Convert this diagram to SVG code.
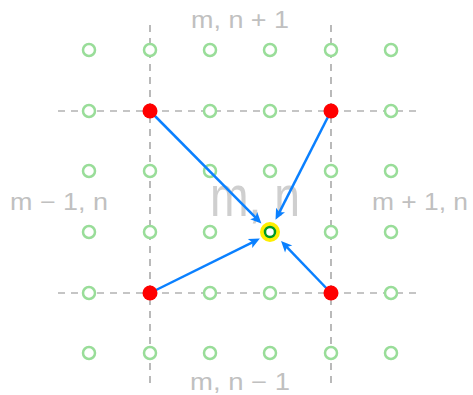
<svg xmlns="http://www.w3.org/2000/svg" width="473" height="395" viewBox="0 0 473 395">
<style>
.lbl{font-family:"Liberation Sans","DejaVu Sans",sans-serif;fill:#c0c0c0;font-size:23px}
.big{font-family:"Liberation Sans","DejaVu Sans",sans-serif;fill:#cfcfcf;font-size:58px}
.dash{stroke:#8c8c8c;stroke-width:1.2;stroke-dasharray:7,6;fill:none}
.pt{fill:#fff;stroke:#99dd99;stroke-width:2.5}
.red{fill:#ff0000}
.arr{stroke:#0a80ff;stroke-width:2.5;fill:none;marker-end:url(#ah)}
</style>
<defs>
<marker id="ah" markerUnits="userSpaceOnUse" viewBox="-1 -6 14 12" markerWidth="14" markerHeight="12" refX="6" refY="0" orient="auto" overflow="visible">
<path d="M0,-5 L11,0 L0,5 L2.5,0 Z" fill="#0a80ff"/>
</marker>
</defs>
<rect width="473" height="395" fill="#fff"/>
<g id="labels">
<text class="big" x="255" y="216" text-anchor="middle" textLength="90" lengthAdjust="spacingAndGlyphs">m, n</text>
<text class="lbl" x="240" y="28" text-anchor="middle" textLength="98" lengthAdjust="spacingAndGlyphs">m, n + 1</text>
<text class="lbl" x="240" y="390" text-anchor="middle" textLength="100" lengthAdjust="spacingAndGlyphs">m, n − 1</text>
<text class="lbl" x="59" y="210" text-anchor="middle" textLength="98" lengthAdjust="spacingAndGlyphs">m − 1, n</text>
<text class="lbl" x="420" y="210" text-anchor="middle" textLength="96" lengthAdjust="spacingAndGlyphs">m + 1, n</text>
</g>
<g id="gridlines">
<line class="dash" x1="150" y1="25" x2="150" y2="385"/>
<line class="dash" x1="331" y1="25" x2="331" y2="385"/>
<line class="dash" x1="58" y1="111" x2="420" y2="111"/>
<line class="dash" x1="58" y1="293" x2="420" y2="293"/>
</g>
<g id="points">
<circle class="pt" cx="89" cy="50" r="6"/><circle class="pt" cx="150" cy="50" r="6"/><circle class="pt" cx="210" cy="50" r="6"/><circle class="pt" cx="270" cy="50" r="6"/><circle class="pt" cx="331" cy="50" r="6"/><circle class="pt" cx="391" cy="50" r="6"/>
<circle class="pt" cx="89" cy="111" r="6"/><circle class="pt" cx="210" cy="111" r="6"/><circle class="pt" cx="270" cy="111" r="6"/><circle class="pt" cx="391" cy="111" r="6"/>
<circle class="pt" cx="89" cy="171" r="6"/><circle class="pt" cx="150" cy="171" r="6"/><circle class="pt" cx="210" cy="171" r="6"/><circle class="pt" cx="270" cy="171" r="6"/><circle class="pt" cx="331" cy="171" r="6"/><circle class="pt" cx="391" cy="171" r="6"/>
<circle class="pt" cx="89" cy="232" r="6"/><circle class="pt" cx="150" cy="232" r="6"/><circle class="pt" cx="210" cy="232" r="6"/><circle class="pt" cx="331" cy="232" r="6"/><circle class="pt" cx="391" cy="232" r="6"/>
<circle class="pt" cx="89" cy="293" r="6"/><circle class="pt" cx="210" cy="293" r="6"/><circle class="pt" cx="270" cy="293" r="6"/><circle class="pt" cx="391" cy="293" r="6"/>
<circle class="pt" cx="89" cy="353" r="6"/><circle class="pt" cx="150" cy="353" r="6"/><circle class="pt" cx="210" cy="353" r="6"/><circle class="pt" cx="270" cy="353" r="6"/><circle class="pt" cx="331" cy="353" r="6"/><circle class="pt" cx="391" cy="353" r="6"/>
</g>
<g id="connectors">
<line class="arr" x1="150" y1="111" x2="257.9" y2="219.9"/>
<line class="arr" x1="331" y1="111" x2="277.8" y2="215.4"/>
<line class="arr" x1="150" y1="293" x2="255.4" y2="240.8"/>
<line class="arr" x1="331" y1="293" x2="284.5" y2="244.6"/>
</g>
<g id="node-tl"><circle class="red" cx="150" cy="111" r="7.5"/></g>
<g id="node-tr"><circle class="red" cx="331" cy="111" r="7.5"/></g>
<g id="node-bl"><circle class="red" cx="150" cy="293" r="7.5"/></g>
<g id="node-br"><circle class="red" cx="331" cy="293" r="7.5"/></g>
<g id="node-center">
<circle cx="270" cy="232" r="8" fill="#fff" stroke="#ffee00" stroke-width="4"/>
<circle cx="270" cy="232" r="5" fill="#fff" stroke="#009922" stroke-width="2.5"/>
</g>
</svg>
